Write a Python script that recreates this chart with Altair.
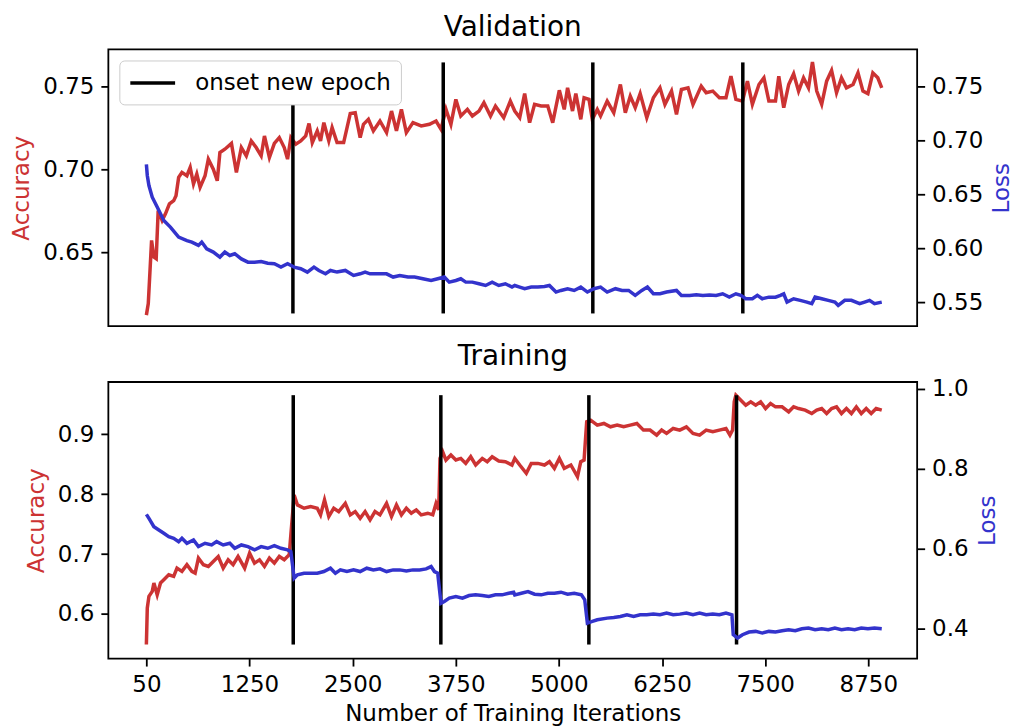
import altair as alt
import pandas as pd

RED = "#cc3333"
BLUE = "#3333cc"
FONT = "DejaVu Sans"

# x tick positions and their labels
x_tick_values = [0, 1250, 2500, 3750, 5000, 6250, 7500, 8750]
x_tick_labels = ["50", "1250", "2500", "3750", "5000", "6250", "7500", "8750"]

# (iteration, value) readings
val_acc = [(0,0.612),(23,0.619),(63,0.657),(91,0.647),(119,0.646),(143,0.675),(191,0.669),(231,0.673),
 (279,0.679),(331,0.681),(359,0.684),(391,0.695),(431,0.698),(491,0.696),(531,0.701),(571,0.691),
 (611,0.697),(651,0.689),(711,0.696),(751,0.706),(811,0.700),(859,0.693),(891,0.710),(951,0.712),
 (1031,0.7155),(1091,0.698),(1151,0.713),(1211,0.708),(1271,0.717),(1331,0.713),(1391,0.708),(1431,0.720),
 (1491,0.707),(1551,0.7155),(1611,0.719),(1671,0.713),(1711,0.706),(1751,0.719),(1811,0.715),(1871,0.717),
 (1931,0.720),(1971,0.7275),(2011,0.716),(2071,0.723),(2111,0.717),(2151,0.728),(2211,0.717),(2251,0.725),
 (2311,0.716),(2391,0.716),(2471,0.7335),(2531,0.734),(2591,0.719),(2631,0.727),(2691,0.730),(2751,0.723),
 (2831,0.729),(2911,0.722),(2971,0.735),(3031,0.723),(3091,0.736),(3151,0.722),(3231,0.728),(3331,0.726),
 (3431,0.727),(3511,0.729),(3571,0.724),(3631,0.736),(3691,0.727),(3751,0.742),(3811,0.732),(3891,0.736),
 (3951,0.732),(4031,0.735),(4091,0.740),(4171,0.732),(4231,0.738),(4331,0.731),(4411,0.741),(4465,0.735),
 (4525,0.731),(4585,0.7455),(4645,0.728),(4705,0.739),(4785,0.738),(4865,0.738),(4925,0.728),(5005,0.7475),
 (5065,0.736),(5105,0.749),(5165,0.735),(5205,0.7455),(5265,0.730),(5305,0.743),(5365,0.742),(5405,0.730),
 (5465,0.736),(5505,0.732),(5585,0.741),(5665,0.734),(5745,0.751),(5805,0.734),(5865,0.744),(5925,0.737),
 (5985,0.7455),(6065,0.731),(6145,0.743),(6225,0.749),(6285,0.739),(6365,0.747),(6425,0.733),(6485,0.748),
 (6565,0.749),(6625,0.739),(6725,0.750),(6785,0.746),(6865,0.747),(6945,0.743),(7025,0.743),(7085,0.756),
 (7145,0.742),(7225,0.741),(7285,0.753),(7345,0.739),(7425,0.751),(7485,0.755),(7545,0.741),(7625,0.741),
 (7665,0.756),(7725,0.737),(7785,0.751),(7845,0.7575),(7905,0.747),(7965,0.755),(8025,0.749),(8073,0.7645),
 (8125,0.747),(8185,0.739),(8245,0.753),(8305,0.7595),(8365,0.746),(8425,0.755),(8485,0.749),(8565,0.751),
 (8625,0.758),(8685,0.747),(8745,0.7455),(8805,0.758),(8865,0.755),(8913,0.749)]

val_loss = [(0,0.6775),(11,0.6673),(31,0.658),(71,0.6472),(131,0.638),(211,0.6256),(291,0.6195),(391,0.6102),
 (491,0.607),(551,0.6056),(631,0.6025),(671,0.6056),(731,0.5994),(811,0.5963),(891,0.5917),(951,0.5963),
 (1011,0.5932),(1071,0.5948),(1151,0.590),(1231,0.587),(1311,0.587),(1391,0.5875),(1471,0.586),(1551,0.5855),
 (1631,0.5824),(1711,0.5855),(1791,0.5824),(1871,0.5809),(1951,0.5778),(2031,0.5824),(2091,0.5793),(2171,0.5762),
 (2231,0.5793),(2311,0.5778),(2411,0.5793),(2511,0.5747),(2591,0.5762),(2651,0.5778),(2711,0.5762),(2831,0.5762),
 (2911,0.5762),(2991,0.5732),(3071,0.5747),(3171,0.5732),(3251,0.5732),(3351,0.5716),(3451,0.570),(3531,0.5716),
 (3611,0.5732),(3671,0.5685),(3751,0.570),(3811,0.5716),(3871,0.5685),(3951,0.5685),(4031,0.567),(4111,0.5654),
 (4191,0.5685),(4271,0.5654),(4351,0.567),(4431,0.5639),(4465,0.5654),(4525,0.5639),(4585,0.5624),(4665,0.5639),
 (4745,0.5639),(4825,0.5645),(4885,0.5654),(4965,0.5593),(5025,0.5608),(5105,0.5624),(5185,0.5608),(5265,0.5639),
 (5345,0.5593),(5425,0.5624),(5505,0.5639),(5585,0.5593),(5685,0.5624),(5765,0.5608),(5845,0.5608),(5925,0.5562),
 (6005,0.5608),(6073,0.5639),(6145,0.5577),(6225,0.5577),(6305,0.5593),(6425,0.5608),(6485,0.5562),(6585,0.5562),
 (6665,0.5568),(6745,0.5562),(6825,0.5566),(6905,0.5562),(6985,0.5577),(7065,0.5546),(7145,0.5577),(7205,0.5562),
 (7265,0.5531),(7345,0.5531),(7405,0.5562),(7465,0.5531),(7545,0.5546),(7625,0.5546),(7685,0.5562),(7725,0.5577),
 (7765,0.550),(7845,0.5531),(7925,0.5516),(8005,0.550),(8065,0.5485),(8105,0.5546),(8185,0.5531),(8265,0.5516),
 (8345,0.550),(8385,0.547),(8465,0.5516),(8545,0.5516),(8645,0.5485),(8705,0.550),(8765,0.5516),(8825,0.5485),
 (8913,0.550)]

tr_acc = [(0,0.549),(11,0.610),(31,0.6294),(71,0.6377),(91,0.6516),(131,0.632),(171,0.6516),(211,0.657),
 (271,0.6654),(331,0.6627),(371,0.6765),(431,0.671),(491,0.6821),(551,0.671),(591,0.668),(631,0.6932),
 (691,0.6821),(751,0.6793),(811,0.6876),(871,0.6959),(931,0.6765),(991,0.6904),(1051,0.6821),(1111,0.6959),
 (1191,0.6765),(1251,0.7015),(1311,0.6848),(1371,0.6904),(1431,0.6793),(1491,0.6932),(1551,0.6848),(1611,0.6959),
 (1671,0.6904),(1731,0.6987),(1751,0.732),(1791,0.7985),(1831,0.7819),(1911,0.7764),(1991,0.7791),(2071,0.7764),
 (2111,0.7653),(2159,0.7902),(2211,0.7625),(2271,0.7764),(2331,0.7708),(2411,0.7846),(2471,0.7653),(2531,0.7708),
 (2591,0.7597),(2651,0.7708),(2711,0.757),(2771,0.7708),(2831,0.7653),(2911,0.7846),(2971,0.7625),(3031,0.7819),
 (3091,0.7653),(3151,0.7764),(3211,0.7681),(3271,0.7736),(3331,0.7653),(3411,0.7681),(3471,0.7653),(3511,0.7846),
 (3543,0.7736),(3559,0.8595),(3591,0.8706),(3631,0.8568),(3691,0.8651),(3751,0.8568),(3811,0.8595),(3871,0.8512),
 (3931,0.8623),(3991,0.8485),(4071,0.8595),(4131,0.854),(4191,0.8623),(4271,0.8551),(4351,0.854),(4431,0.8485),
 (4465,0.8595),(4525,0.8485),(4605,0.8346),(4665,0.8512),(4745,0.8512),(4825,0.8485),(4885,0.854),(4945,0.8429),
 (5005,0.8595),(5065,0.8429),(5145,0.8485),(5225,0.8291),(5265,0.854),(5305,0.8568),(5337,0.9206),(5385,0.9233),
 (5465,0.915),(5545,0.9178),(5625,0.9122),(5705,0.915),(5785,0.9122),(5865,0.915),(5945,0.9178),(6025,0.9067),
 (6105,0.9067),(6185,0.8984),(6245,0.9067),(6305,0.9011),(6385,0.9095),(6465,0.9067),(6545,0.9122),(6625,0.9011),
 (6705,0.8984),(6785,0.9067),(6865,0.9039),(6945,0.9067),(7025,0.9095),(7073,0.8984),(7105,0.9067),(7125,0.9538),
 (7145,0.9649),(7205,0.9566),(7265,0.9483),(7325,0.9538),(7385,0.9483),(7445,0.9538),(7505,0.9427),(7565,0.951),
 (7625,0.9455),(7705,0.9455),(7785,0.9372),(7845,0.9455),(7905,0.9427),(7985,0.940),(8065,0.9344),(8125,0.940),
 (8185,0.9427),(8245,0.9344),(8305,0.9427),(8365,0.9455),(8425,0.9344),(8485,0.9427),(8545,0.9344),(8605,0.9455),
 (8665,0.9344),(8725,0.9427),(8785,0.9344),(8845,0.9427),(8913,0.940)]

tr_loss = [(0,0.6853),(31,0.6753),(91,0.6545),(151,0.6462),(211,0.6379),(271,0.6295),(331,0.6254),(391,0.617),
 (431,0.6254),(491,0.6129),(571,0.6212),(631,0.6046),(711,0.6129),(791,0.6087),(851,0.617),(931,0.6087),
 (1011,0.6129),(1071,0.6004),(1151,0.6087),(1231,0.6046),(1311,0.5963),(1391,0.6046),(1471,0.6004),(1551,0.607),
 (1631,0.6004),(1711,0.5963),(1751,0.5921),(1791,0.5255),(1831,0.5338),(1911,0.538),(1991,0.538),(2071,0.538),
 (2151,0.5421),(2231,0.5505),(2291,0.538),(2351,0.5463),(2431,0.5421),(2511,0.5463),(2591,0.5421),(2671,0.5505),
 (2751,0.5463),(2831,0.5488),(2911,0.5421),(2991,0.5463),(3071,0.5463),(3151,0.5438),(3231,0.5463),(3311,0.5463),
 (3391,0.5488),(3451,0.5546),(3491,0.5421),(3531,0.538),(3571,0.463),(3611,0.4672),(3671,0.4756),(3751,0.4797),
 (3831,0.4756),(3911,0.4822),(3991,0.4839),(4071,0.4822),(4151,0.4797),(4231,0.4839),(4311,0.4839),(4391,0.488),
 (4451,0.4905),(4465,0.4839),(4545,0.488),(4625,0.4922),(4705,0.4855),(4785,0.4839),(4865,0.488),(4945,0.488),
 (5025,0.4905),(5105,0.4855),(5185,0.488),(5273,0.4839),(5313,0.4714),(5345,0.4131),(5405,0.4173),(5465,0.4215),
 (5585,0.4256),(5665,0.4273),(5745,0.4298),(5825,0.434),(5905,0.4298),(5985,0.434),(6065,0.434),(6145,0.4356),
 (6225,0.434),(6305,0.4381),(6385,0.434),(6465,0.4356),(6545,0.4381),(6625,0.434),(6705,0.4381),(6785,0.434),
 (6865,0.4356),(6945,0.434),(7025,0.4381),(7097,0.434),(7113,0.3841),(7165,0.3757),(7225,0.3841),(7305,0.3907),
 (7385,0.3924),(7465,0.3882),(7545,0.3924),(7625,0.3907),(7705,0.394),(7785,0.3965),(7865,0.394),(7945,0.399),
 (8025,0.4006),(8105,0.3965),(8185,0.399),(8265,0.3965),(8345,0.4006),(8425,0.3965),(8505,0.399),(8585,0.3965),
 (8665,0.4006),(8745,0.399),(8825,0.4006),(8913,0.399)]

# epoch onsets: (iteration, low, high) on the accuracy scale
val_epochs = [(1776, 0.613, 0.7402), (3598, 0.613, 0.7643), (5411, 0.613, 0.7643), (7229, 0.613, 0.7643)]
tr_epochs = [(1780, 0.549, 0.965), (3569, 0.549, 0.965), (5363, 0.549, 0.965), (7153, 0.549, 0.965)]

LEGEND_LABEL = "onset new epoch"

X_DOMAIN = [-461, 9342]
W, H = 810, 277

label_expr = " : ".join(
    f"datum.value == {v} ? '{l}'" for v, l in zip(x_tick_values, x_tick_labels)
) + " : datum.label"


def xenc(show_axis):
    if show_axis:
        ax = alt.Axis(values=x_tick_values, labelExpr=label_expr,
                      title="Number of Training Iterations", titlePadding=7)
    else:
        ax = None
    return alt.X("it:Q", scale=alt.Scale(domain=X_DOMAIN, nice=False, zero=False), axis=ax)


def panel(title, acc, loss, epochs, acc_dom, acc_ticks, acc_fmt, loss_dom, loss_ticks, loss_fmt,
          show_x, legend):
    acc_df = pd.DataFrame(acc, columns=["it", "v"])
    loss_df = pd.DataFrame(loss, columns=["it", "v"])
    ep_df = pd.DataFrame(epochs, columns=["it", "lo", "hi"])
    ep_df["label"] = LEGEND_LABEL

    acc_line = alt.Chart(acc_df).mark_line(color=RED, strokeWidth=3.5).encode(
        x=xenc(show_x),
        y=alt.Y("v:Q", scale=alt.Scale(domain=acc_dom, nice=False, zero=False),
                axis=alt.Axis(values=acc_ticks, format=acc_fmt, title="Accuracy",
                              titleColor=RED, orient="left", titlePadding=9)),
    )
    if legend:
        color = alt.Color("label:N", scale=alt.Scale(range=["black"]),
                          legend=alt.Legend(title=None, orient="top-left", offset=11,
                                            symbolType="M-1,0H2.9", symbolSize=529,
                                            symbolStrokeWidth=3.5, labelFontSize=23,
                                            labelFont=FONT, labelColor="black", padding=9,
                                            labelLimit=0,
                                            strokeColor="#cccccc", fillColor="white",
                                            cornerRadius=5, labelOffset=40))
    else:
        color = alt.value("black")
    rules = alt.Chart(ep_df).mark_rule(strokeWidth=3.5).encode(
        x=xenc(show_x),
        y=alt.Y("lo:Q", scale=alt.Scale(domain=acc_dom, nice=False, zero=False), axis=None),
        y2="hi:Q",
        color=color,
    )
    loss_line = alt.Chart(loss_df).mark_line(color=BLUE, strokeWidth=3.5).encode(
        x=xenc(show_x),
        y=alt.Y("v:Q", scale=alt.Scale(domain=loss_dom, nice=False, zero=False),
                axis=alt.Axis(values=loss_ticks, format=loss_fmt, title="Loss",
                              titleColor=BLUE, orient="right", titleAngle=270,
                              titleBaseline="top", titlePadding=8)),
    )
    return alt.layer(acc_line, rules, loss_line).resolve_scale(y="independent").properties(
        width=W, height=H,
        title=alt.TitleParams(title, fontSize=28, font=FONT, fontWeight="normal",
                              color="black", anchor="middle", offset=7),
    )


top = panel("Validation", val_acc, val_loss, val_epochs,
            [0.6054, 0.7721], [0.65, 0.70, 0.75], ".2f",
            [0.5278, 0.784], [0.55, 0.60, 0.65, 0.70, 0.75], ".2f",
            show_x=False, legend=True)
bottom = panel("Training", tr_acc, tr_loss, tr_epochs,
               [0.5256, 0.987], [0.6, 0.7, 0.8, 0.9], ".1f",
               [0.3244, 1.0165], [0.4, 0.6, 0.8, 1.0], ".1f",
               show_x=True, legend=False)

chart = alt.vconcat(top, bottom, spacing=14).resolve_scale(color="independent").resolve_legend(
    color="independent"
).properties(padding={"left": 1.5, "top": 5, "right": 0, "bottom": 0}).configure(
    background="white"
).configure_view(
    stroke="black", strokeWidth=1.8
).configure_axis(
    labelFont=FONT, titleFont=FONT, labelFontSize=23, titleFontSize=23,
    titleFontWeight="normal", labelColor="black", tickColor="black", tickWidth=1.8,
    tickSize=7.5, labelPadding=7, grid=False, domain=False, titleColor="black",
)

chart.save("out.html", embed_options={"renderer": "svg", "actions": False})
